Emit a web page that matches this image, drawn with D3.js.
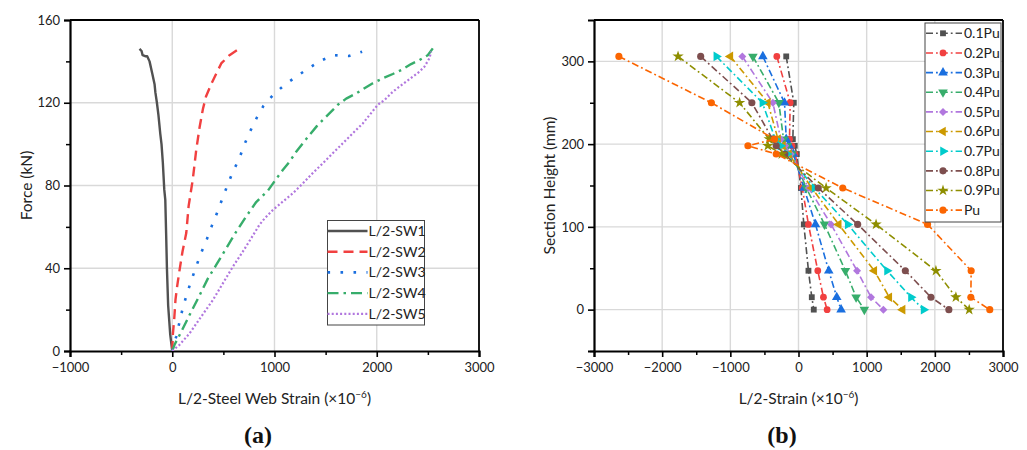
<!DOCTYPE html>
<html>
<head>
<meta charset="utf-8">
<script src="https://cdn.jsdelivr.net/npm/d3@7"></script>
<style>
  html, body { margin: 0; padding: 0; background: #fff; }
  svg { display: block; font-family: Lato, "Open Sans", sans-serif; }
</style>
</head>
<body>
<svg id="fig" width="1027" height="450"></svg>
<script>
// ---------- Panel (a): load vs. web strain at mid-span ----------
const swNames = ["L/2-SW1", "L/2-SW2", "L/2-SW3", "L/2-SW4", "L/2-SW5"];
// each curve: [strain (×10^-6), force (kN)]
const sw1 = [[0,0],[-20,8],[-40,22],[-52,40],[-60,57],[-68,73],[-78,78],[-92,91],[-105,100],[-117,105],[-135,114],[-150,120],[-165,125],[-173,129],[-195,134],[-222,140],[-245,142.5],[-265,142.5],[-290,143],[-300,145],[-320,146]];
const sw2 = [[0,0],[6,8],[20,16],[32,25],[50,32],[71,39],[100,48],[137,57],[160,70],[201,83],[234,97],[267,108],[300,117],[330,123],[381,129],[430,134],[479,139],[560,143],[651,146]];
const sw3 = [[0,0],[39,7],[71,14],[104,21],[143,27.5],[186,34],[235,41],[283,47.5],[338,54],[387,60.5],[440,67],[489,73.5],[543,80.5],[592,86.5],[655,93],[707,100],[765,106.5],[829,113],[892,118.5],[990,124],[1098,128.6],[1212,132.6],[1332,136.6],[1450,140.3],[1580,143],[1726,142.6],[1857,144.7]];
const sw4 = [[0,0],[22,3],[88,9.3],[169,17.4],[260,26.2],[348,35],[430,41.6],[528,49.6],[626,57.7],[723,65],[821,72],[935,77.5],[1000,82],[1081,87.5],[1147,91.5],[1212,96.3],[1277,100.4],[1342,104.4],[1414,108.7],[1489,112.5],[1554,115.7],[1619,119],[1701,122],[1799,124.5],[1880,127],[1961,129.4],[2059,131.8],[2157,133.9],[2239,135.8],[2336,138.7],[2417,140.6],[2499,143],[2548,146.3]];
const sw5 = [[0,0],[71,3],[169,8.5],[283,16.6],[397,24.6],[495,32.7],[592,40.7],[690,48],[772,54.5],[853,61],[902,64],[983,68.1],[1081,72.2],[1179,76.2],[1277,81],[1374,86],[1472,90.7],[1570,95.6],[1668,100.4],[1765,105.2],[1863,110],[1945,115],[2010,119],[2075,121.3],[2157,125.3],[2254,129],[2352,132.6],[2417,135],[2466,137.4],[2515,141.5],[2532,144.7]];
const aXTicks = [-1000, 0, 1000, 2000, 3000];
const aYTicks = [0, 40, 80, 120, 160];

// ---------- Panel (b): strain distribution over section height ----------
const loadNames = ["0.1Pu","0.2Pu","0.3Pu","0.4Pu","0.5Pu","0.6Pu","0.7Pu","0.8Pu","0.9Pu","Pu"];
const heights = [306, 250, 206, 198, 188, 147, 103, 47, 15, 0];
const s01 = [-180, -69, -83, -55, -25, 35, 78, 146, 195, 224];
const s02 = [-318, -122, -132, -95, -50, 55, 146, 283, 366, 420];
const s03 = [-523, -205, -180, -135, -75, 80, 249, 444, 561, 625];
const s04 = [-669, -288, -220, -165, -95, 115, 381, 688, 845, 966];
const s05 = [-824, -376, -260, -195, -115, 150, 478, 859, 1064, 1245];
const s06 = [-1000, -450, -300, -230, -140, 195, 590, 1112, 1332, 1527];
const s07 = [-1205, -530, -340, -265, -165, 235, 722, 1299, 1650, 1835];
const s08 = [-1435, -684, -380, -327, -200, 290, 868, 1567, 1943, 2206];
const s09 = [-1767, -864, -430, -450, -245, 405, 1138, 2016, 2309, 2504];
const s10 = [-2635, -1278, -351, -742, -327, 649, 1893, 2533, 2528, 2806];
const bXTicks = [-3000, -2000, -1000, 0, 1000, 2000, 3000];
const bYTicks = [0, 100, 200, 300];

// Origin-style colour cycle
const palette = ["#515151", "#F14040", "#1A6FDF", "#37AD6B", "#B177DE", "#CC9900", "#00CBCC", "#7D4E4E", "#8E8E00", "#FB6501"];

const svg = d3.select("#fig");
const GRID = "#d9d9d9";

function drawFrame(g, x, y, xTicks, yTicks, xMinor, yMinor, xGrid, yGrid) {
  const [x0, x1] = x.range();
  const [y0, y1] = y.range(); // y0 bottom, y1 top
  // grid
  g.append("g").selectAll("line").data(xGrid).join("line")
    .attr("x1", d => x(d)).attr("x2", d => x(d)).attr("y1", y0).attr("y2", y1)
    .attr("stroke", GRID).attr("stroke-width", 1.4);
  g.append("g").selectAll("line").data(yGrid).join("line")
    .attr("y1", d => y(d)).attr("y2", d => y(d)).attr("x1", x0).attr("x2", x1)
    .attr("stroke", GRID).attr("stroke-width", 1.4);
  // top and right frame
  g.append("line").attr("x1", x0).attr("x2", x1).attr("y1", y1).attr("y2", y1).attr("stroke", "#000").attr("stroke-width", 1.8);
  g.append("line").attr("x1", x1).attr("x2", x1).attr("y1", y1).attr("y2", y0).attr("stroke", "#000").attr("stroke-width", 1.8);
  // minor ticks
  const minor = g.append("g");
  minor.append("g").attr("transform", `translate(0,${y0})`)
    .call(d3.axisBottom(x).tickValues(xMinor).tickSize(4).tickFormat(""))
    .call(s => s.select(".domain").remove());
  minor.append("g").attr("transform", `translate(${x0},0)`)
    .call(d3.axisLeft(y).tickValues(yMinor).tickSize(4).tickFormat(""))
    .call(s => s.select(".domain").remove());
  minor.selectAll("line").attr("stroke-width", 1.5);
  // major axes
  const fmt = d3.format("");
  const ax = g.append("g").attr("transform", `translate(0,${y0})`)
    .call(d3.axisBottom(x).tickValues(xTicks).tickSize(6).tickPadding(6).tickFormat(fmt));
  const ay = g.append("g").attr("transform", `translate(${x0},0)`)
    .call(d3.axisLeft(y).tickValues(yTicks).tickSize(6).tickPadding(4).tickFormat(fmt));
  [ax, ay].forEach(a => {
    a.select(".domain").attr("stroke-width", 2.2);
    a.selectAll(".tick line").attr("stroke-width", 1.6);
    a.selectAll(".tick text").attr("font-size", 13).attr("fill", "#222")
      .attr("font-family", "Lato, 'Open Sans', sans-serif");
  });
}

function axisTitle(g, text, x, y, rotate) {
  const t = g.append("text")
    .attr("transform", `translate(${x},${y})` + (rotate ? " rotate(-90)" : ""))
    .attr("text-anchor", "middle").attr("font-size", 15.5).attr("fill", "#222");
  return t;
}

// ---------------- Panel (a) ----------------
const xa = d3.scaleLinear().domain([-1000, 3000]).range([70, 479]);
const ya = d3.scaleLinear().domain([0, 160]).range([351, 20]);
const ga = svg.append("g");
drawFrame(ga, xa, ya, aXTicks, aYTicks,
  [-500, 500, 1500, 2500], [20, 60, 100, 140],
  [0, 1000, 2000], [40, 80, 120]);

const aStyles = [
  { dash: null, w: 2.4 },
  { dash: "10,6", w: 2.4 },
  { dash: "2.6,10.4", w: 2.6 },
  { dash: "11,5,2.5,5", w: 2.4 },
  { dash: "2,2.2", w: 2.2 }
];
const aSeries = [sw1, sw2, sw3, sw4, sw5];
const lineA = d3.line().x(d => xa(d[0])).y(d => ya(d[1])).curve(d3.curveLinear);
const clipA = svg.append("clipPath").attr("id", "clipA").append("rect")
  .attr("x", 70).attr("y", 20).attr("width", 409).attr("height", 331);
ga.append("g").attr("clip-path", "url(#clipA)").selectAll("path").data(aSeries).join("path")
  .attr("d", lineA).attr("fill", "none")
  .attr("stroke", (d, i) => palette[i])
  .attr("stroke-width", (d, i) => aStyles[i].w)
  .attr("stroke-dasharray", (d, i) => aStyles[i].dash)
  .attr("stroke-linejoin", "round");

const tA = axisTitle(ga, "", 274.5, 404, false);
tA.append("tspan").text("L/2-Steel Web Strain (×10");
tA.append("tspan").attr("font-size", 10).attr("dy", -6).text("−6");
tA.append("tspan").attr("dy", 6).text(")");
axisTitle(ga, "", 31.5, 185.5, true).text("Force (kN)");

// legend (a)
const legA = ga.append("g").attr("transform", "translate(327.5,220.5)");
legA.append("rect").attr("width", 97).attr("height", 104.5)
  .attr("fill", "#fff").attr("stroke", "#444").attr("stroke-width", 1);
swNames.forEach((name, i) => {
  const yy = 10.5 + i * 20.7;
  legA.append("line").attr("x1", 0).attr("x2", 40).attr("y1", yy).attr("y2", yy)
    .attr("stroke", palette[i]).attr("stroke-width", aStyles[i].w)
    .attr("stroke-dasharray", aStyles[i].dash);
  legA.append("text").attr("x", 41).attr("y", yy).attr("dy", "0.35em")
    .attr("font-size", 14).attr("fill", "#222").text(name);
});

svg.append("text").attr("x", 258).attr("y", 443).attr("text-anchor", "middle")
  .attr("font-family", "'Liberation Serif', 'DejaVu Serif', serif").attr("font-weight", "bold")
  .attr("font-size", 24).attr("fill", "#111").text("(a)");

// ---------------- Panel (b) ----------------
const xb = d3.scaleLinear().domain([-3000, 3000]).range([594, 1003]);
const yb = d3.scaleLinear().domain([-50, 350]).range([351, 20]);
const gb = svg.append("g");
drawFrame(gb, xb, yb, bXTicks, bYTicks,
  [-2500, -1500, -500, 500, 1500, 2500], [-50, 50, 150, 250],
  [-2000, -1000, 0, 1000, 2000], [0, 100, 200, 300]);

const bSeries = [s01, s02, s03, s04, s05, s06, s07, s08, s09, s10];
const symbols = [
  { t: d3.symbolSquare, s: 34, r: 0 },
  { t: d3.symbolCircle, s: 36, r: 0 },
  { t: d3.symbolTriangle, s: 40, r: 0 },
  { t: d3.symbolTriangle, s: 40, r: 180 },
  { t: d3.symbolSquare, s: 32, r: 45 },
  { t: d3.symbolTriangle, s: 40, r: -90 },
  { t: d3.symbolTriangle, s: 40, r: 90 },
  { t: d3.symbolCircle, s: 40, r: 0 },
  { t: d3.symbolStar, s: 40, r: 0 },
  { t: d3.symbolCircle, s: 40, r: 0 }
];
const bDash = "7,3,1.8,3";
const lineB = d3.line().x(d => xb(d[0])).y(d => yb(d[1]));
const plotB = gb.append("g");
bSeries.forEach((vals, i) => {
  const pts = vals.map((v, k) => [v, heights[k]]);
  const s = plotB.append("g");
  s.append("path").attr("d", lineB(pts)).attr("fill", "none")
    .attr("stroke", palette[i]).attr("stroke-width", 1.6).attr("stroke-dasharray", bDash);
  s.selectAll("path.m").data(pts).join("path").attr("class", "m")
    .attr("d", d3.symbol().type(symbols[i].t).size(symbols[i].s))
    .attr("transform", d => `translate(${xb(d[0])},${yb(d[1])}) rotate(${symbols[i].r})`)
    .attr("fill", palette[i]);
});

const tB = axisTitle(gb, "", 798.5, 404, false);
tB.append("tspan").text("L/2-Strain (×10");
tB.append("tspan").attr("font-size", 10).attr("dy", -6).text("−6");
tB.append("tspan").attr("dy", 6).text(")");
axisTitle(gb, "", 555, 185.5, true).text("Section Height (mm)");

// legend (b)
const legB = gb.append("g").attr("transform", "translate(925,23)");
legB.append("rect").attr("width", 76).attr("height", 199)
  .attr("fill", "#fff").attr("stroke", "#444").attr("stroke-width", 1);
loadNames.forEach((name, i) => {
  const yy = 10.3 + i * 19.65;
  legB.append("line").attr("x1", 1).attr("x2", 37).attr("y1", yy).attr("y2", yy)
    .attr("stroke", palette[i]).attr("stroke-width", 1.6).attr("stroke-dasharray", bDash);
  legB.append("path").attr("d", d3.symbol().type(symbols[i].t).size(symbols[i].s))
    .attr("transform", `translate(18,${yy}) rotate(${symbols[i].r})`).attr("fill", palette[i]);
  legB.append("text").attr("x", 39).attr("y", yy).attr("dy", "0.35em")
    .attr("font-size", 14).attr("fill", "#222").text(name);
});

svg.append("text").attr("x", 782).attr("y", 443).attr("text-anchor", "middle")
  .attr("font-family", "'Liberation Serif', 'DejaVu Serif', serif").attr("font-weight", "bold")
  .attr("font-size", 24).attr("fill", "#111").text("(b)");
</script>
</body>
</html>
